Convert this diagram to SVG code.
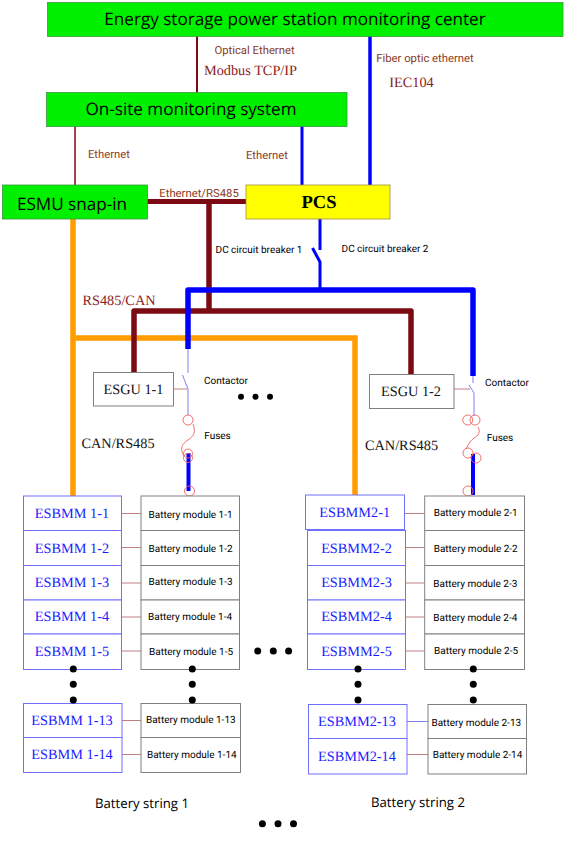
<svg xmlns="http://www.w3.org/2000/svg" width="564" height="860" viewBox="0 0 564 860">
<style>
text{text-anchor:middle;text-rendering:geometricPrecision}
.san{font-family:"Open Sans","Noto Sans",sans-serif}
.rob{font-family:Roboto,"Noto Sans",sans-serif}
.ser{font-family:"Liberation Serif","Times New Roman",serif}
.g{fill:#00f000;stroke:#3a9a3a;stroke-width:.8}
.big{font-size:17.100px;fill:#000}
.lab{font-size:11.300px;fill:#8a3a1e}
.blk{font-size:10px;fill:#000}
.red{font-size:14.300px;fill:#8b1a1a}
.can{font-size:14.300px;fill:#111}
.mm{fill:#fff;stroke:#7070ff;stroke-width:1}
.bm{fill:#fff;stroke:#808080;stroke-width:1}
.mt{font-size:14.300px;fill:#1a1aff}
.bt{font-size:10px;fill:#000}
.gu{fill:#fff;stroke:#808080;stroke-width:1}
.thin{fill:none;stroke:#8080f0;stroke-width:1}
.fu{fill:none;stroke:#f06060;stroke-width:.9}
.lk{fill:none;stroke:#c08080;stroke-width:1}
.br{fill:none;stroke:#7b0a12;stroke-linecap:round;stroke-linejoin:round}
.bl{fill:none;stroke:#0000ff;stroke-linejoin:round}
.or{fill:none;stroke:#ff9c00;stroke-width:5.500}
.d{fill:#000}
</style>
<g id="connectors">
<path class="br" stroke-width="2" d="M197 36V93"/>
<path class="bl" stroke-width="3.500" d="M370 36V185"/>
<path class="br" stroke-width="1.500" d="M75 126V185"/>
<path class="bl" stroke-width="3" d="M302 126V185"/>
<path class="or" d="M73 218V497M73 338H355V497"/>
<path class="br" stroke-width="5" d="M147 201.500H248"/>
<path class="br" stroke-width="5.500" d="M209 202V311M134 373V311H411V377"/>
<path class="bl" stroke-width="3" d="M320 219V250M312.500 248L320 262V290"/>
<path class="bl" stroke-width="5.500" d="M188 349V290H473V376"/>
<path class="thin" d="M188 349V373M182.500 375L188 389V415"/>
<path class="lk" d="M173.500 389H187"/>
<path class="thin" d="M473 376V383M469 385L474 393V416"/>
<path class="lk" d="M453 389H470"/>
<path class="fu" d="M193 424C196 432 194 436 188 440C181 444 180 450 184 456"/>
<path class="fu" d="M478 427C481 432 478 436 474 438C470 441 468 445 466 449"/>
<path class="bl" stroke-width="4" d="M188.500 453V491"/>
<path class="bl" stroke-width="4" d="M473 454V495"/>
<path class="lk" d="M122 513.500H141M122 547.500H141M122 583H141M122 617H141M122 651H141M122 720.500H141M122 754.500H141"/>
<path class="lk" d="M405 513.500H425M405 547.500H425M405 583H425M405 617H425M405 651H425M407 754.500H428"/>
<path class="thin" d="M407 721.500H428"/>
</g>
<g id="center"><rect class="g" x="47.500" y="2.500" width="515.500" height="34"/><text class="san big" x="295" y="25">Energy storage power station monitoring center</text></g>
<g id="onsite"><rect class="g" x="46.500" y="92.500" width="300.500" height="34"/><text class="san big" x="191" y="115">On-site monitoring system</text></g>
<g id="esmu"><rect class="g" x="2.500" y="185" width="145" height="34"/><text class="san big" x="72" y="209.500">ESMU snap-in</text></g>
<g id="pcs"><rect x="246" y="185" width="144" height="34" fill="#ffff00" stroke="#a09040" stroke-width=".8"/><text class="ser" x="319" y="207.700" font-size="18.500" font-weight="bold">PCS</text></g>
<g id="labels">
<text class="rob lab" x="254.500" y="54">Optical Ethernet</text>
<text class="ser red" x="250.500" y="74.700">Modbus TCP/IP</text>
<text class="rob lab" x="425" y="61.700">Fiber optic ethernet</text>
<text class="ser red" x="411.500" y="86.700">IEC104</text>
<text class="rob lab" x="109" y="158">Ethernet</text>
<text class="rob lab" x="267" y="158.500">Ethernet</text>
<text class="rob lab" x="199" y="196.700">Ethernet/RS485</text>
<text class="rob blk" x="259" y="252.700">DC circuit breaker 1</text>
<text class="rob blk" x="385" y="252">DC circuit breaker 2</text>
<text class="ser red" x="119" y="304.700">RS485/CAN</text>
<text class="ser can" x="118" y="448">CAN/RS485</text>
<text class="ser can" x="401.500" y="450">CAN/RS485</text>
<text class="rob blk" x="226" y="383.700">Contactor</text>
<text class="rob blk" x="507" y="385.700">Contactor</text>
<text class="rob blk" x="217.500" y="439">Fuses</text>
<text class="rob blk" x="500" y="441">Fuses</text>
<text class="san" x="142" y="808" font-size="13.200" fill="#000">Battery string 1</text>
<text class="san" x="418" y="806.700" font-size="13.200" fill="#000">Battery string 2</text>
</g>
<g id="esgu1"><rect class="gu" x="93.500" y="372.500" width="80" height="33.500"/><text class="ser can" x="133.500" y="394">ESGU 1-1</text></g>
<g id="esgu2"><rect class="gu" x="369.500" y="374.500" width="84.500" height="34"/><text class="ser can" x="411" y="396">ESGU 1-2</text></g>
<g id="fuses">
<circle class="fu" cx="188" cy="420" r="5"/><circle class="fu" cx="188" cy="453.500" r="4.500"/><circle class="fu" cx="188" cy="458" r="4.500"/><circle class="fu" cx="189.500" cy="491" r="5"/>
<circle class="fu" cx="467.700" cy="420" r="5"/><circle class="fu" cx="475" cy="420" r="5"/><circle class="fu" cx="468" cy="453" r="5"/><circle class="fu" cx="476" cy="458" r="5"/><circle class="fu" cx="468" cy="491" r="5"/>
</g>
<g id="esbmm1-1"><rect class="mm" x="23.500" y="496" width="98" height="34.500"/><text class="ser mt" x="72" y="518.300">ESBMM 1-1</text></g>
<g id="esbmm1-2"><rect class="mm" x="23.500" y="530.500" width="98" height="35"/><text class="ser mt" x="72" y="552.500">ESBMM 1-2</text></g>
<g id="esbmm1-3"><rect class="mm" x="23.500" y="565.500" width="98" height="34.500"/><text class="ser mt" x="72" y="587">ESBMM 1-3</text></g>
<g id="esbmm1-4"><rect class="mm" x="23.500" y="600" width="98" height="34"/><text class="ser mt" x="72" y="621">ESBMM 1-4</text></g>
<g id="esbmm1-5"><rect class="mm" x="23.500" y="634" width="98" height="35.500"/><text class="ser mt" x="72" y="656">ESBMM 1-5</text></g>
<g id="esbmm1-13"><rect class="mm" x="23.500" y="703.500" width="98.500" height="34"/><text class="ser mt" x="72" y="725">ESBMM 1-13</text></g>
<g id="esbmm1-14"><rect class="mm" x="23.500" y="737.500" width="98.500" height="35"/><text class="ser mt" x="72" y="759.300">ESBMM 1-14</text></g>
<g id="bm1-1"><rect class="bm" x="141" y="496" width="98.500" height="34.500"/><text class="rob bt" x="190.600" y="517.500">Battery module 1-1</text></g>
<g id="bm1-2"><rect class="bm" x="141" y="530.500" width="98.500" height="35"/><text class="rob bt" x="190.600" y="551.700">Battery module 1-2</text></g>
<g id="bm1-3"><rect class="bm" x="141" y="565.500" width="98.500" height="34.500"/><text class="rob bt" x="190.600" y="585">Battery module 1-3</text></g>
<g id="bm1-4"><rect class="bm" x="141" y="600" width="98.500" height="34"/><text class="rob bt" x="190" y="619.700">Battery module 1-4</text></g>
<g id="bm1-5"><rect class="bm" x="141" y="634" width="98.500" height="35.500"/><text class="rob bt" x="191" y="655">Battery module 1-5</text></g>
<g id="bm1-13"><rect class="bm" x="141" y="703.500" width="99.500" height="34"/><text class="rob bt" x="190.800" y="723.300">Battery module 1-13</text></g>
<g id="bm1-14"><rect class="bm" x="141" y="737.500" width="99.500" height="35"/><text class="rob bt" x="191.800" y="757.700">Battery module 1-14</text></g>
<g id="esbmm2-1"><rect class="mm" x="305.500" y="495" width="99" height="34.500"/><text class="ser mt" x="354.700" y="516.700">ESBMM2-1</text></g>
<g id="esbmm2-2"><rect class="mm" x="307.500" y="530.500" width="98" height="35"/><text class="ser mt" x="356.500" y="552.700">ESBMM2-2</text></g>
<g id="esbmm2-3"><rect class="mm" x="307.500" y="565.500" width="98" height="34.500"/><text class="ser mt" x="356.500" y="587">ESBMM2-3</text></g>
<g id="esbmm2-4"><rect class="mm" x="307.500" y="600" width="98" height="34"/><text class="ser mt" x="356.500" y="621">ESBMM2-4</text></g>
<g id="esbmm2-5"><rect class="mm" x="307.500" y="634" width="98" height="35.500"/><text class="ser mt" x="356.500" y="655.500">ESBMM2-5</text></g>
<g id="esbmm2-13"><rect class="mm" x="308.500" y="704.500" width="98.500" height="34"/><text class="ser mt" x="357" y="726.300">ESBMM2-13</text></g>
<g id="esbmm2-14"><rect class="mm" x="308.500" y="738.500" width="98.500" height="35.500"/><text class="ser mt" x="357" y="761">ESBMM2-14</text></g>
<g id="bm2-1"><rect class="bm" x="424.700" y="496" width="99.800" height="34.500"/><text class="rob bt" x="475.700" y="515.700">Battery module 2-1</text></g>
<g id="bm2-2"><rect class="bm" x="424.700" y="530.500" width="99.800" height="35"/><text class="rob bt" x="475.700" y="552.300">Battery module 2-2</text></g>
<g id="bm2-3"><rect class="bm" x="424.700" y="565.500" width="99.800" height="34.500"/><text class="rob bt" x="475.300" y="587">Battery module 2-3</text></g>
<g id="bm2-4"><rect class="bm" x="424.700" y="600" width="99.800" height="34"/><text class="rob bt" x="475.300" y="621">Battery module 2-4</text></g>
<g id="bm2-5"><rect class="bm" x="424.700" y="634" width="99.800" height="35.500"/><text class="rob bt" x="476" y="653.700">Battery module 2-5</text></g>
<g id="bm2-13"><rect class="bm" x="428" y="704.500" width="98.500" height="34"/><text class="rob bt" x="476.300" y="726.300">Battery module 2-13</text></g>
<g id="bm2-14"><rect class="bm" x="428" y="738.500" width="98.500" height="35.500"/><text class="rob bt" x="477.500" y="758.300">Battery module 2-14</text></g>
<g id="ellipses">
<circle class="d" cx="241" cy="396.700" r="3"/><circle class="d" cx="255.500" cy="396.700" r="3"/><circle class="d" cx="270" cy="396.700" r="3"/>
<circle class="d" cx="257.700" cy="651" r="3.500"/><circle class="d" cx="273.300" cy="651" r="3.500"/><circle class="d" cx="288.600" cy="651" r="3.500"/>
<circle class="d" cx="262.400" cy="823.700" r="3.500"/><circle class="d" cx="278" cy="823.700" r="3.500"/><circle class="d" cx="293.500" cy="823.700" r="3.500"/>
<circle class="d" cx="73.300" cy="669" r="3.500"/><circle class="d" cx="73.300" cy="684.300" r="3.500"/><circle class="d" cx="73.300" cy="700" r="3.500"/>
<circle class="d" cx="192.300" cy="669" r="3.500"/><circle class="d" cx="192.300" cy="684.300" r="3.500"/><circle class="d" cx="192.300" cy="700" r="3.500"/>
<circle class="d" cx="358" cy="669" r="3.500"/><circle class="d" cx="358" cy="684.300" r="3.500"/><circle class="d" cx="358" cy="700" r="3.500"/>
<circle class="d" cx="473.300" cy="669" r="3.500"/><circle class="d" cx="473.300" cy="684.300" r="3.500"/><circle class="d" cx="473.300" cy="700" r="3.500"/>
</g>
</svg>
